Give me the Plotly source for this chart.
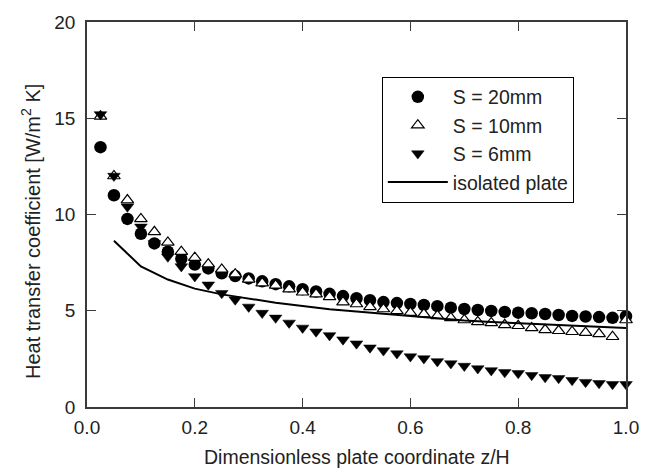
import plotly.graph_objects as go

# z/H positions of the measured points (every 0.025)
z_points = [round(0.025 * k, 3) for k in range(1, 41)]

h_s20 = [13.5, 11.0, 9.77, 9.0, 8.5, 8.07, 7.7, 7.4, 7.2, 6.95,
         6.8, 6.68, 6.53, 6.38, 6.27, 6.12, 6.0, 5.88, 5.76, 5.65,
         5.55, 5.45, 5.4, 5.35, 5.3, 5.24, 5.16, 5.09, 5.04, 4.99,
         4.94, 4.9, 4.87, 4.83, 4.78, 4.73, 4.7, 4.67, 4.63, 4.72]

h_s10 = [15.1, 12.0, 10.75, 9.77, 9.1, 8.55, 8.07, 7.76, 7.42, 7.15,
         6.9, 6.63, 6.43, 6.32, 6.12, 5.96, 5.86, 5.72, 5.45, 5.35,
         5.2, 5.09, 4.99, 4.9, 4.83, 4.73, 4.63, 4.52, 4.42, 4.37,
         4.27, 4.22, 4.11, 4.01, 3.96, 3.91, 3.86, 3.8, 3.65, 4.52]

h_s6 = [15.2, 12.0, 10.4, 9.36, 8.5, 7.8, 7.3, 6.78, 6.35, 5.91,
        5.57, 5.2, 4.88, 4.63, 4.37, 4.11, 3.91, 3.72, 3.5, 3.29,
        3.08, 2.93, 2.78, 2.62, 2.52, 2.37, 2.26, 2.13, 2.0, 1.9,
        1.8, 1.75, 1.65, 1.54, 1.49, 1.39, 1.29, 1.23, 1.18, 1.18]

z_line = [0.05, 0.1, 0.15, 0.2, 0.25, 0.3, 0.35, 0.4, 0.45, 0.5,
          0.55, 0.6, 0.65, 0.7, 0.75, 0.8, 0.85, 0.9, 0.95, 1.0]
h_isolated = [8.64, 7.3, 6.62, 6.15, 5.85, 5.62, 5.42, 5.25, 5.08, 4.96,
              4.85, 4.72, 4.6, 4.5, 4.42, 4.35, 4.28, 4.22, 4.16, 4.1]

x_ticks = [0.0, 0.2, 0.4, 0.6, 0.8, 1.0]
y_ticks = [0, 5, 10, 15, 20]

FONT = "Liberation Sans, Arial, Helvetica, sans-serif"
AX = "#3a3a3a"

fig = go.Figure()
fig.add_trace(go.Scatter(
    x=z_points, y=h_s20, mode="markers", name="S = 20mm",
    marker=dict(symbol="circle", size=12.5, color="black", line=dict(width=0)),
    cliponaxis=False))
fig.add_trace(go.Scatter(
    x=z_points, y=h_s10, mode="markers", name="S = 10mm",
    marker=dict(symbol="triangle-up", size=11, color="white",
                line=dict(color="black", width=1.2)),
    cliponaxis=False))
fig.add_trace(go.Scatter(
    x=z_points, y=h_s6, mode="markers", name="S = 6mm",
    marker=dict(symbol="triangle-down", size=11, color="black",
                line=dict(color="black", width=0.5)),
    cliponaxis=False))
fig.add_trace(go.Scatter(
    x=z_line, y=h_isolated, mode="lines", name="isolated plate",
    line=dict(color="black", width=2)))

axis_common = dict(
    showline=True, linecolor=AX, linewidth=1.5, mirror="ticks",
    ticks="inside", ticklen=9, tickwidth=1.2, tickcolor=AX,
    showgrid=False, zeroline=False,
    tickfont=dict(family=FONT, size=19, color="#222"),
)

fig.update_layout(
    width=651, height=471,
    margin=dict(l=87, r=23, t=18, b=64),
    paper_bgcolor="white", plot_bgcolor="white",
    font=dict(family=FONT, color="#222"),
    xaxis=dict(range=[0, 1], tickvals=x_ticks, tickformat=".1f",
               ticklabelstandoff=2, **axis_common),
    yaxis=dict(range=[0, 20], tickvals=y_ticks, ticklabelstandoff=6,
               **axis_common),
    legend=dict(x=0.547, y=0.858, xanchor="left", yanchor="top",
                bordercolor="black", borderwidth=1, bgcolor="white",
                font=dict(family=FONT, size=19.5, color="#222"),
                itemwidth=60, tracegroupgap=0),
    showlegend=True,
)

fig.add_annotation(
    text="Dimensionless plate coordinate z/H",
    xref="paper", yref="paper", x=0.5, y=-0.131,
    xanchor="center", yanchor="middle", showarrow=False,
    font=dict(family=FONT, size=19.5, color="#222"))

fig.add_annotation(
    text="Heat transfer coefficient [W/m<sup>2</sup> K]",
    xref="paper", yref="paper", x=-0.1035, y=0.455,
    xanchor="center", yanchor="middle", textangle=-90, showarrow=False,
    font=dict(family=FONT, size=20, color="#222"))

fig.write_html("out.html")
